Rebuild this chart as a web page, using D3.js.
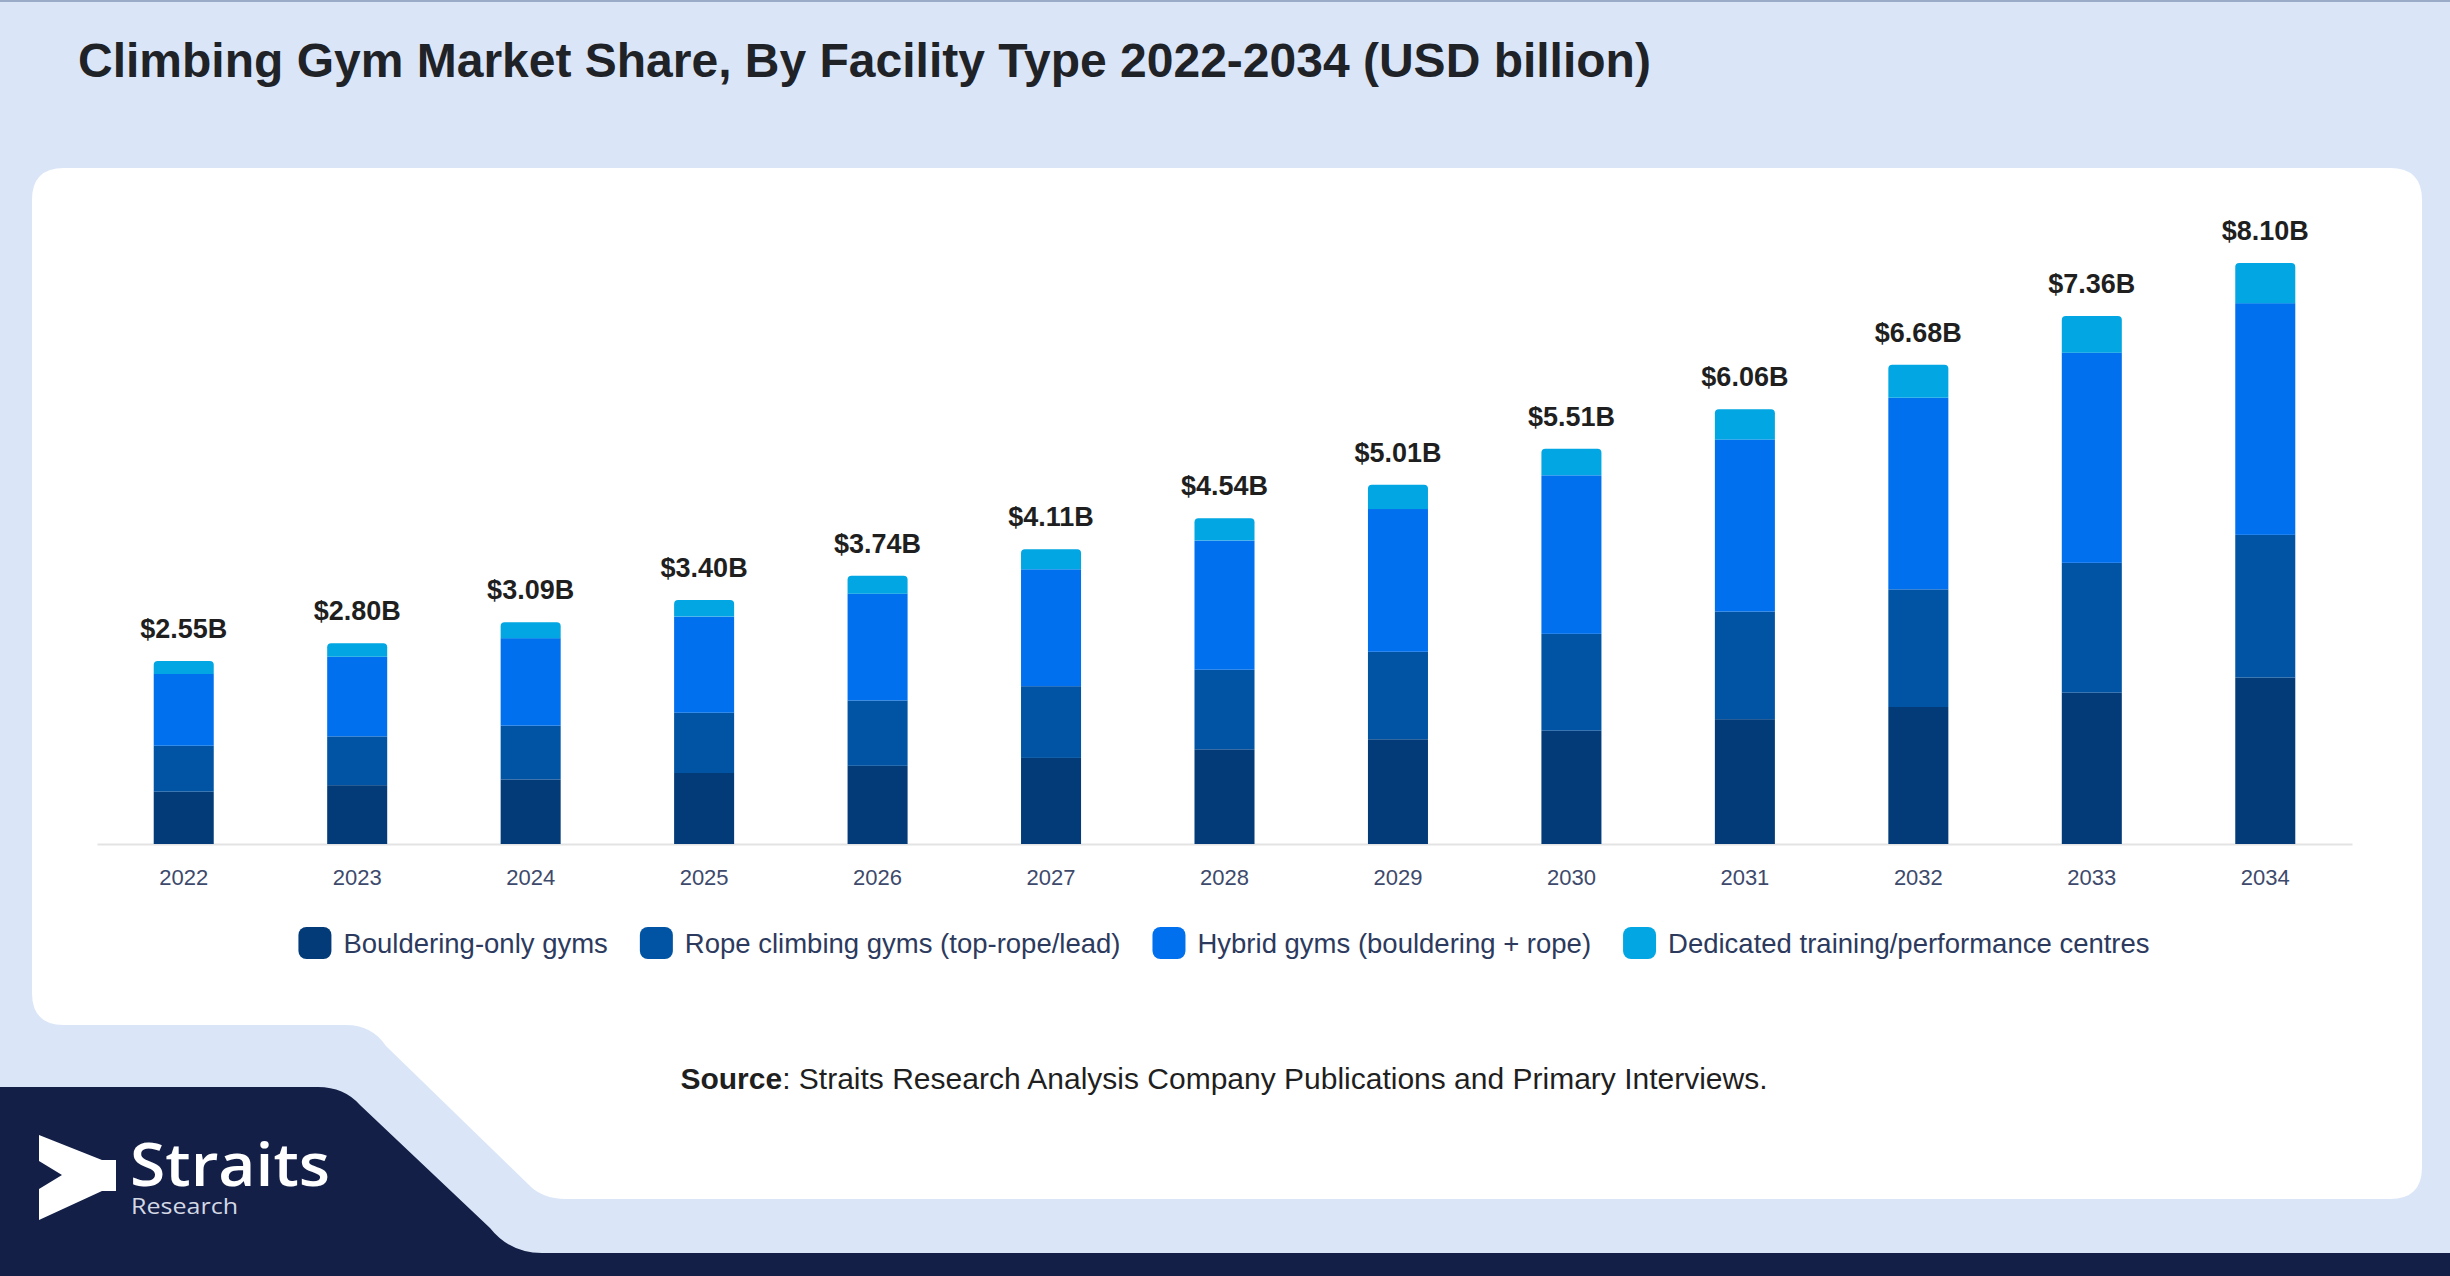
<!DOCTYPE html>
<html>
  <head>
    <meta charset="utf-8">
    <title>Climbing Gym Market Share, By Facility Type 2022-2034</title>
    <script src="https://cdn.jsdelivr.net/npm/d3@7"></script>
    <style>
      html, body { margin: 0; padding: 0; background: #dae6f8; }
      svg { display: block; font-family: "Liberation Sans", Arial, sans-serif; }
      .title { font-size: 48px; font-weight: bold; fill: #1f2328; }
      .valueLabel { font-size: 27px; font-weight: bold; fill: #1f1f1f; text-anchor: middle; }
      .xAxis text { font-size: 22px; fill: #3d4a6c; }
      .xAxis path { stroke: #e3e3e3; stroke-width: 2; }
      .legendText { font-size: 27.5px; fill: #2c3a5e; }
      .source { font-size: 30px; fill: #1f1f1f; }
    </style>
  </head>

  <body>
    <svg id="chart" width="2450" height="1276"></svg>

    <script>
      // data (USD billion)
      years = ["2022", "2023", "2024", "2025", "2026", "2027", "2028", "2029", "2030", "2031", "2032", "2033", "2034"];
      bouldering = [0.73, 0.82, 0.90, 0.99, 1.09, 1.20, 1.32, 1.46, 1.58, 1.74, 1.91, 2.11, 2.32];
      rope = [0.64, 0.68, 0.75, 0.84, 0.91, 1.00, 1.11, 1.22, 1.35, 1.50, 1.64, 1.81, 1.99];
      hybrid = [1.00, 1.11, 1.22, 1.34, 1.49, 1.63, 1.80, 1.99, 2.21, 2.40, 2.67, 2.93, 3.23];
      dedicated = [0.18, 0.19, 0.22, 0.23, 0.25, 0.28, 0.31, 0.34, 0.37, 0.42, 0.46, 0.51, 0.56];
      totals = [2.55, 2.80, 3.09, 3.40, 3.74, 4.11, 4.54, 5.01, 5.51, 6.06, 6.68, 7.36, 8.10];

      seriesNames = ["Bouldering-only gyms", "Rope climbing gyms (top-rope/lead)", "Hybrid gyms (bouldering + rope)", "Dedicated training/performance centres"];
      seriesColours = ["#033b78", "#0153a3", "#0170ee", "#02a6e2"];

      svg = d3.select("#chart");

      // background shapes
      svg.append("rect")
        .attr("width", 2450)
        .attr("height", 1276)
        .attr("fill", "#dae6f8");
      svg.append("rect")
        .attr("width", 2450)
        .attr("height", 2)
        .attr("fill", "#9aabc8");
      svg.append("path")
        .attr("fill", "#ffffff")
        .attr("d", "M64,168 L2390,168 Q2422,168 2422,200 L2422,1167 Q2422,1199 2390,1199 L566,1199 Q542,1199 528,1184 L386,1046 Q372,1025 346,1025 L64,1025 Q32,1025 32,993 L32,200 Q32,168 64,168 Z");
      svg.append("path")
        .attr("fill", "#131f46")
        .attr("d", "M0,1087 L318,1087 Q344,1087 360,1105 L490,1228 Q510,1253 542,1253 L2450,1253 L2450,1276 L0,1276 Z");

      // logo
      logo = svg.append("g");
      logo.append("path")
        .attr("fill", "#ffffff")
        .attr("d", "M39,1135 L102,1160 L116,1160 L116,1191 L102,1191 L39,1220 L39,1189 L62,1175 L39,1161 Z");
      logo.append("text")
        .attr("x", 130)
        .attr("y", 1186)
        .attr("textLength", 200)
        .attr("lengthAdjust", "spacingAndGlyphs")
        .attr("fill", "#ffffff")
        .style("font-family", "'Open Sans', sans-serif")
        .style("font-weight", 600)
        .style("font-size", "60px")
        .text("Straits");
      logo.append("text")
        .attr("x", 131)
        .attr("y", 1214)
        .attr("textLength", 107)
        .attr("lengthAdjust", "spacingAndGlyphs")
        .attr("fill", "#d3d8e4")
        .style("font-family", "'Open Sans', sans-serif")
        .style("font-size", "21px")
        .text("Research");

      // title
      svg.append("text")
        .attr("class", "title")
        .attr("x", 78)
        .attr("y", 77)
        .text("Climbing Gym Market Share, By Facility Type 2022-2034 (USD billion)");

      // stacked data
      tableData = years.map(function(y, i) {
        row = { year: y };
        row[seriesNames[0]] = bouldering[i];
        row[seriesNames[1]] = rope[i];
        row[seriesNames[2]] = hybrid[i];
        row[seriesNames[3]] = dedicated[i];
        return row;
      });
      stack = d3.stack().keys(seriesNames)(tableData);

      x = d3.scaleBand()
        .domain(years)
        .range([97, 2352])
        .paddingInner(0.654)
        .paddingOuter(0.327);
      y = d3.scaleLinear()
        .domain([0, d3.max(totals)])
        .range([844, 263]);

      xAxis = d3.axisBottom(x)
        .tickSize(0)
        .tickSizeOuter(0)
        .tickPadding(25);
      svg.append("g")
        .attr("class", "xAxis")
        .attr("transform", "translate(0, 844)")
        .call(xAxis)
        .call(function(g) { g.attr("font-size", null).attr("font-family", null); });

      // bars, the top layer gets rounded corners
      r = 4;
      layers = svg.selectAll(".layer")
          .data(stack)
        .enter().append("g")
          .attr("class", "layer")
          .attr("fill", function(d, i) { return seriesColours[i]; });

      layers.each(function(layer, li) {
        if (li < stack.length - 1) {
          d3.select(this).selectAll("rect")
              .data(layer)
            .enter().append("rect")
              .attr("x", function(d) { return x(d.data.year); })
              .attr("y", function(d) { return y(d[1]); })
              .attr("width", x.bandwidth())
              .attr("height", function(d) { return y(d[0]) - y(d[1]); });
        } else {
          d3.select(this).selectAll("path")
              .data(layer)
            .enter().append("path")
              .attr("d", function(d) {
                x0 = x(d.data.year);
                x1 = x0 + x.bandwidth();
                yTop = y(d[1]);
                yBot = y(d[0]);
                return "M" + x0 + "," + yBot +
                  " L" + x0 + "," + (yTop + r) +
                  " Q" + x0 + "," + yTop + " " + (x0 + r) + "," + yTop +
                  " L" + (x1 - r) + "," + yTop +
                  " Q" + x1 + "," + yTop + " " + x1 + "," + (yTop + r) +
                  " L" + x1 + "," + yBot + " Z";
              });
        }
      });

      // total labels
      svg.selectAll(".valueLabel")
          .data(totals)
        .enter().append("text")
          .attr("class", "valueLabel")
          .attr("x", function(d, i) { return x(years[i]) + x.bandwidth() / 2; })
          .attr("y", function(d) { return y(d) - 23; })
          .text(function(d) { return "$" + d3.format(".2f")(d) + "B"; });

      // legend, centred under the chart
      legend = svg.append("g").attr("class", "legend");
      items = legend.selectAll(".legendItem")
          .data(seriesNames)
        .enter().append("g")
          .attr("class", "legendItem");
      items.append("rect")
        .attr("width", 33)
        .attr("height", 32)
        .attr("rx", 8)
        .attr("y", -16)
        .attr("fill", function(d, i) { return seriesColours[i]; });
      items.append("text")
        .attr("class", "legendText")
        .attr("x", 45)
        .attr("y", 10)
        .text(function(d) { return d; });

      widths = [];
      items.each(function() {
        widths.push(this.querySelector("text").getComputedTextLength() + 45);
      });
      legendGap = 32;
      legendWidth = d3.sum(widths) + legendGap * (widths.length - 1);
      offset = 1224 - legendWidth / 2;
      items.attr("transform", function(d, i) {
        xPos = offset;
        offset += widths[i] + legendGap;
        return "translate(" + xPos + ", 943)";
      });

      // source line
      source = svg.append("text")
        .attr("class", "source")
        .attr("x", 1224)
        .attr("y", 1089)
        .attr("text-anchor", "middle");
      source.append("tspan")
        .attr("font-weight", "bold")
        .text("Source");
      source.append("tspan")
        .text(": Straits Research Analysis Company Publications and Primary Interviews.");
    </script>
  </body>
</html>
